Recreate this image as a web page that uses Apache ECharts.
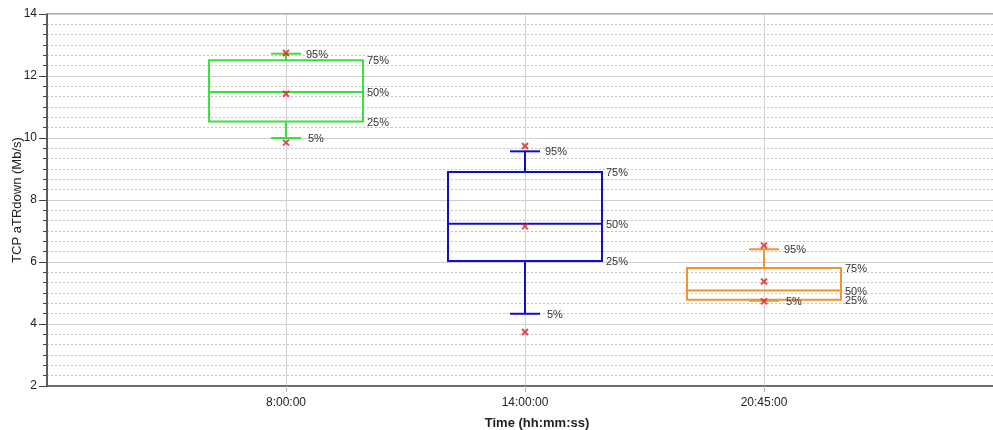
<!DOCTYPE html>
<html>
<head>
<meta charset="utf-8">
<script src="https://cdn.jsdelivr.net/npm/echarts@6/dist/echarts.min.js"></script>
<style>
html,body{margin:0;padding:0;background:#fff;}
#chart{width:993px;height:430px;}
</style>
</head>
<body>
<div id="chart"></div>
<script>
// ---- data ----
const categories = ['8:00:00', '14:00:00', '20:45:00'];
const p5  = [10.00, 4.33, 4.75];
const p25 = [10.53, 6.03, 4.78];
const p50 = [11.48, 7.23, 5.08];
const p75 = [12.51, 8.90, 5.81];
const p95 = [12.72, 9.57, 6.41];
const markHigh = [12.74, 9.74, 6.53];
const markMid  = [11.43, 7.15, 5.37];
const markLow  = [9.85, 3.74, 4.73];
const boxColors = ['#3be03b', '#1010c8', '#f0952c'];
const yTicks = [2, 4, 6, 8, 10, 12, 14];

const FONT = '"Liberation Sans", Arial, sans-serif';
const boxData = categories.map((c, i) => [i + 1, p5[i], p25[i], p50[i], p75[i], p95[i], i]);
const markData = [];
categories.forEach((c, i) => {
  markData.push([i + 1, markHigh[i]]);
  markData.push([i + 1, markMid[i]]);
  markData.push([i + 1, markLow[i]]);
});
const catPositions = categories.map((c, i) => i + 1);

const BOX_W = 154, CAP_W = 30;

function renderBox(params, api) {
  const x = api.value(0);
  const idx = api.value(6);
  const color = boxColors[idx];
  const px = api.coord([x, api.value(1)])[0];
  const y = k => api.coord([x, api.value(k)])[1];
  const y5 = y(1), y25 = y(2), y50 = y(3), y75 = y(4), y95 = y(5);
  const l = px - BOX_W / 2, r = px + BOX_W / 2;
  const cl = px - CAP_W / 2, cr = px + CAP_W / 2;
  const ls = { stroke: color, lineWidth: 2, fill: null };
  const line = (x1, y1, x2, y2) => ({ type: 'line', shape: { x1, y1, x2, y2 }, style: ls });
  const txt = (t, tx, ty) => ({
    type: 'text',
    style: { text: t, x: tx, y: ty, fill: '#333', fontSize: 11, fontFamily: FONT, align: 'left', verticalAlign: 'middle' }
  });
  return {
    type: 'group',
    children: [
      line(px, y95, px, y75),
      line(px, y25, px, y5),
      line(cl, y95, cr, y95),
      line(cl, y5, cr, y5),
      { type: 'rect', shape: { x: l, y: y75, width: BOX_W, height: y25 - y75 }, style: ls },
      line(l, y50, r, y50),
      txt('95%', cr + 5, y95 + 1),
      txt('75%', r + 4, y75 + 1),
      txt('50%', r + 4, y50 + 1),
      txt('25%', r + 4, y25 + 1),
      txt('5%', cr + 7, y5 + 1)
    ]
  };
}

const chart = echarts.init(document.getElementById('chart'), null, { renderer: 'canvas' });
chart.setOption({
  animation: false,
  backgroundColor: '#fff',
  textStyle: { fontFamily: FONT },
  grid: {
    left: 47, top: 14, width: 956, height: 372,
    containLabel: false, outerBoundsMode: 'none',
    show: true, borderColor: '#555', borderWidth: 1, backgroundColor: 'transparent'
  },
  xAxis: {
    type: 'value', min: 0, max: 4, interval: 1,
    name: 'Time (hh:mm:ss)', nameLocation: 'middle', nameGap: 31, nameMoveOverlap: false,
    nameTextStyle: { fontSize: 13, fontWeight: 'bold', color: '#222', fontFamily: FONT, padding: [0, 0, 0, 24] },
    axisLine: { show: true, lineStyle: { color: '#555', width: 1.5 } },
    axisTick: { show: true, length: 6, customValues: catPositions, lineStyle: { color: '#bbb' } },
    axisLabel: {
      color: '#222', fontSize: 12, fontFamily: FONT, margin: 11,
      formatter: v => (v >= 1 && v <= categories.length) ? categories[v - 1] : ''
    },
    splitLine: { show: true, lineStyle: { color: '#d2d2d2', width: 1 } }
  },
  yAxis: {
    type: 'value', min: yTicks[0], max: yTicks[yTicks.length - 1], interval: 2,
    name: 'TCP aTRdown (Mb/s)', nameLocation: 'middle', nameGap: 23, nameMoveOverlap: false,
    nameTextStyle: { fontSize: 13, color: '#222', fontFamily: FONT },
    axisLine: { show: true, lineStyle: { color: '#444', width: 1.5 } },
    axisTick: { show: true, length: 8, lineStyle: { color: '#444' } },
    minorTick: { show: true, splitNumber: 6, length: 4, lineStyle: { color: '#444' } },
    axisLabel: { color: '#222', fontSize: 12, fontFamily: FONT, margin: 10 },
    splitLine: { show: true, lineStyle: { color: '#cfcfcf', width: 1 } },
    minorSplitLine: { show: true, lineStyle: { color: '#c4c4c4', width: 1, type: [2, 2] } }
  },
  series: [
    {
      type: 'custom',
      renderItem: renderBox,
      data: boxData,
      encode: { x: 0, y: [1, 2, 3, 4, 5] },
      z: 3
    },
    {
      type: 'scatter',
      data: markData,
      symbol: 'path://M0,0 L10,10 M10,0 L0,10 M0,0 L10,10',
      symbolSize: 6,
      itemStyle: { color: 'none', borderColor: '#e02020', borderWidth: 2 },
      z: 5
    }
  ]
});
</script>
</body>
</html>
